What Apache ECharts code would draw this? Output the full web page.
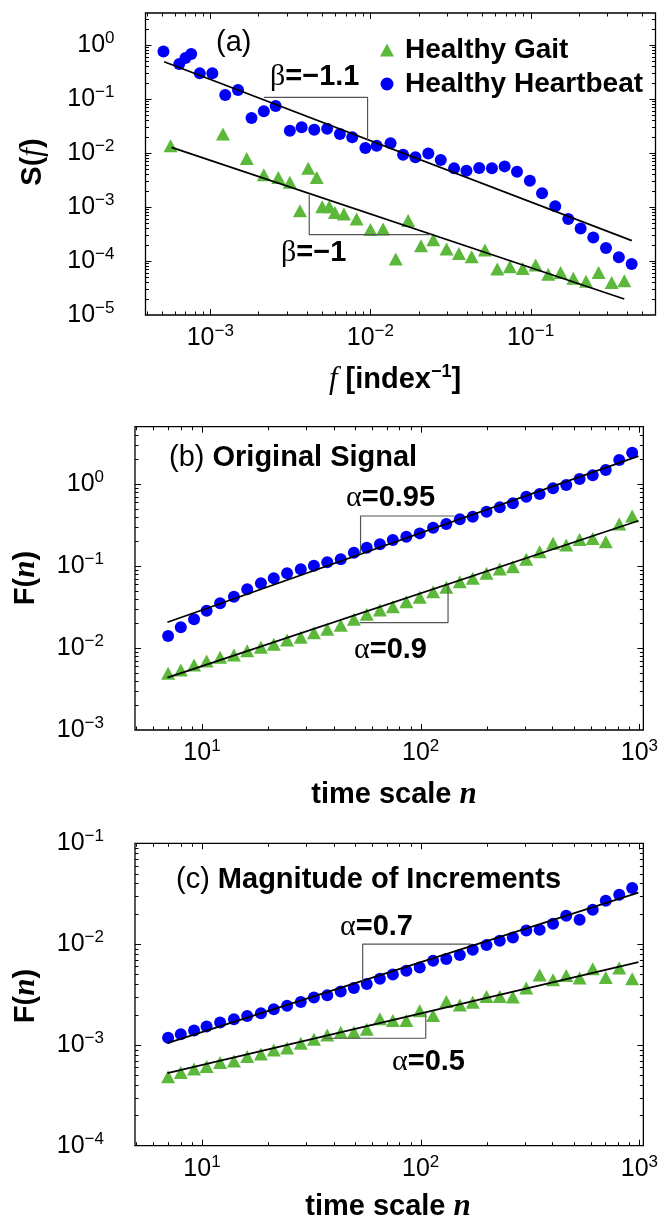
<!DOCTYPE html>
<html>
<head>
<meta charset="utf-8">
<script src="https://cdn.jsdelivr.net/npm/echarts@6/dist/echarts.min.js"></script>
<style>html,body{margin:0;padding:0;background:#fff}#c{width:661px;height:1220px}</style>
</head>
<body>
<div id="c"></div>
<script>
// ---------- DATA ----------
// Panel (a): power spectra
const aHeartF = [5.1e-4, 6.4e-4, 7.0e-4, 7.6e-4, 8.6e-4, 1.03e-3, 1.24e-3, 1.49e-3, 1.81e-3, 2.16e-3, 2.56e-3, 3.14e-3, 3.72e-3, 4.46e-3, 5.37e-3, 6.45e-3, 7.7e-3, 9.3e-3, 0.01094, 0.01336, 0.016, 0.0191, 0.023, 0.0275, 0.0333, 0.0398, 0.0478, 0.0574, 0.0689, 0.0823, 0.099, 0.118, 0.1426, 0.172, 0.2055, 0.2465, 0.296, 0.356, 0.428];
const aHeartS = [0.76, 0.445, 0.574, 0.68, 0.298, 0.30, 0.119, 0.147, 0.0445, 0.059, 0.074, 0.0259, 0.030, 0.027, 0.028, 0.0225, 0.0195, 0.0124, 0.01365, 0.0151, 0.0093, 0.0083, 0.0098, 0.0074, 0.00519, 0.0047, 0.00527, 0.0052, 0.00565, 0.0045, 0.00307, 0.00179, 0.00103, 6.0e-4, 4.0e-4, 2.73e-4, 1.74e-4, 1.17e-4, 8.8e-5];
const aGaitF = [5.65e-4, 1.2e-3, 1.69e-3, 2.16e-3, 2.66e-3, 3.14e-3, 3.63e-3, 4.09e-3, 4.62e-3, 5.0e-3, 5.53e-3, 6.0e-3, 6.83e-3, 8.2e-3, 0.0100, 0.0120, 0.0144, 0.0172, 0.0207, 0.0247, 0.0299, 0.0357, 0.0429, 0.0519, 0.062, 0.0743, 0.0893, 0.1076, 0.129, 0.154, 0.185, 0.222, 0.266, 0.321, 0.385];
const aGaitS = [0.01365, 0.0225, 0.0079, 3.96e-3, 3.53e-3, 2.86e-3, 8.5e-4, 5.19e-3, 3.53e-3, 1.01e-3, 1.01e-3, 7.9e-4, 7.4e-4, 6.0e-4, 3.85e-4, 3.9e-4, 1.09e-4, 5.6e-4, 1.92e-4, 2.48e-4, 1.67e-4, 1.38e-4, 1.2e-4, 1.6e-4, 7.1e-5, 7.8e-5, 7.3e-5, 8.4e-5, 5.7e-5, 6.1e-5, 4.8e-5, 4.2e-5, 6.1e-5, 4.0e-5, 4.3e-5];
const aHeartFitF = [5.15e-4, 0.429], aHeartFitS = [0.49, 2.38e-4];
const aGaitFitF = [5.73e-4, 0.385], aGaitFitS = [0.0127, 1.98e-5];
const aHeartGuide = [[2.16e-3, 0.107], [9.6e-3, 0.107], [9.6e-3, 0.0169]];
const aGaitGuide = [[4.15e-3, 1.69e-3], [4.15e-3, 3.07e-4], [0.0239, 3.07e-4]];

// Panels (b) and (c): DFA fluctuation functions
const nScale = [7.0, 8.0, 9.2, 10.5, 12.1, 14.0, 16.1, 18.6, 21.3, 24.5, 28.3, 32.5, 37.4, 43.1, 49.5, 56.7, 65.1, 74.6, 86.0, 99, 114, 131, 151, 173, 200, 230, 264, 304, 350, 403, 463, 533, 612, 702, 809, 927];
const bHeart = [0.0140, 0.0179, 0.0224, 0.0285, 0.0351, 0.0423, 0.0519, 0.0615, 0.0708, 0.0814, 0.0911, 0.101, 0.111, 0.1206, 0.1455, 0.1675, 0.1838, 0.2076, 0.228, 0.250, 0.293, 0.325, 0.371, 0.400, 0.460, 0.519, 0.581, 0.701, 0.755, 0.885, 0.972, 1.15, 1.276, 1.48, 1.96, 2.41];
const bGait = [0.00491, 0.00540, 0.00621, 0.00694, 0.00769, 0.00822, 0.00927, 0.0102, 0.0111, 0.01253, 0.0135, 0.0154, 0.0169, 0.0189, 0.0224, 0.0258, 0.0291, 0.0319, 0.0367, 0.0415, 0.0487, 0.0550, 0.0644, 0.0707, 0.0814, 0.0919, 0.0982, 0.1205, 0.1495, 0.189, 0.180, 0.211, 0.217, 0.198, 0.325, 0.407];
const cHeart = [1.18e-3, 1.276e-3, 1.387e-3, 1.52e-3, 1.667e-3, 1.8e-3, 1.94e-3, 2.06e-3, 2.26e-3, 2.44e-3, 2.67e-3, 2.95e-3, 3.11e-3, 3.39e-3, 3.66e-3, 4.01e-3, 4.53e-3, 5.0e-3, 5.43e-3, 5.86e-3, 6.83e-3, 7.1e-3, 7.78e-3, 8.79e-3, 9.77e-3, 0.0108, 0.01164, 0.01367, 0.01387, 0.0159, 0.0191, 0.01745, 0.0219, 0.0269, 0.0309, 0.036];
const cGait = [4.84e-4, 5.31e-4, 5.78e-4, 6.09e-4, 6.68e-4, 6.94e-4, 7.66e-4, 8.14e-4, 8.92e-4, 9.34e-4, 1.039e-3, 1.138e-3, 1.257e-3, 1.336e-3, 1.336e-3, 1.432e-3, 1.813e-3, 1.745e-3, 1.745e-3, 2.18e-3, 1.955e-3, 2.69e-3, 2.49e-3, 2.65e-3, 3.02e-3, 3.02e-3, 2.98e-3, 3.66e-3, 4.95e-3, 4.42e-3, 4.89e-3, 4.6e-3, 5.69e-3, 4.67e-3, 5.78e-3, 4.53e-3];
const fitN = [6.95, 990];
const bHeartFit = [0.0206, 2.19], bGaitFit = [0.00435, 0.357];
const cHeartFit = [1.04e-3, 0.0324], cGaitFit = [5.24e-4, 6.62e-3];
const bHeartGuide = [[53.1, 0.139], [53.1, 0.407], [142.6, 0.407]];
const bGaitGuide = [[52.6, 0.0204], [133.4, 0.0204], [133.4, 0.0586]];
const cHeartGuide = [[54.3, 4.25e-3], [54.3, 0.01], [170, 0.01]];
const cGaitGuide = [[36.1, 1.164e-3], [105.5, 1.164e-3], [105.5, 2.07e-3]];

// axis ranges
const aX = [3.94e-4, 0.603], aY = [1e-5, 3.91];
const bX = [4.94, 1043], bY = [1e-3, 5];
const cX = [4.94, 1043], cY = [1e-4, 0.1];

// ---------- STYLE ----------
const FONT = 'Liberation Sans', SERIF = 'Liberation Serif';
const BLUE = '#0000f8', GREEN = '#5bb83a';

function zip(xs, ys) { return xs.map((x, i) => [x, ys[i]]); }
function supFmt(v) {
  const l = Math.log10(v), e = Math.round(l);
  if (Math.abs(l - e) > 1e-6) return '';
  return '{b|10}{s|' + (e < 0 ? '\u2212' + (-e) : String(e)) + '}';
}
const tickRich = {
  b: { fontFamily: FONT, fontSize: 25, lineHeight: 30, color: '#000' },
  s: { fontFamily: FONT, fontSize: 17, lineHeight: 10, verticalAlign: 'top', color: '#000' }
};
function logAxis(gi, ext, margin) {
  return { type: 'log', logBase: 10, gridIndex: gi, min: ext[0], max: ext[1],
    axisLine: { show: false }, axisTick: { show: false }, splitLine: { show: false },
    axisLabel: { formatter: supFmt, rich: tickRich, margin: margin, color: '#000' } };
}
// tick values (major decades + minor 2..9)
function tickVals(ext) {
  const out = [];
  for (let d = Math.floor(Math.log10(ext[0])) - 1; d <= Math.ceil(Math.log10(ext[1])); d++) {
    for (let k = 1; k <= 9; k++) {
      const v = k * Math.pow(10, d);
      if (v > ext[0] * 1.0001 && v < ext[1] * 0.9999) out.push([v, k === 1 ? 1 : 0]);
    }
  }
  return out;
}
function xTickItem(params, api) {
  const cs = params.coordSys;
  const px = Math.round(api.coord([api.value(0), api.value(1)])[0]) + 0.5;
  const len = api.value(2) ? 6 : 3.5;
  const b = cs.y + cs.height, t = cs.y;
  return { type: 'group', children: [
    { type: 'line', shape: { x1: px, y1: b, x2: px, y2: b - len }, style: { stroke: '#000', lineWidth: 1 } },
    { type: 'line', shape: { x1: px, y1: t, x2: px, y2: t + len }, style: { stroke: '#000', lineWidth: 1 } } ] };
}
function yTickItem(params, api) {
  const cs = params.coordSys;
  const py = Math.round(api.coord([api.value(0), api.value(1)])[1]) + 0.5;
  const len = api.value(2) ? 6 : 3.5;
  const l = cs.x, r = cs.x + cs.width;
  return { type: 'group', children: [
    { type: 'line', shape: { x1: l, y1: py, x2: l + len, y2: py }, style: { stroke: '#000', lineWidth: 1 } },
    { type: 'line', shape: { x1: r, y1: py, x2: r - len, y2: py }, style: { stroke: '#000', lineWidth: 1 } } ] };
}
function tickSeries(gi, xe, ye) {
  return [
    { type: 'custom', xAxisIndex: gi, yAxisIndex: gi, silent: true, z: 5, renderItem: xTickItem,
      data: tickVals(xe).map(t => [t[0], ye[0], t[1]]) },
    { type: 'custom', xAxisIndex: gi, yAxisIndex: gi, silent: true, z: 5, renderItem: yTickItem,
      data: tickVals(ye).map(t => [xe[0], t[0], t[1]]) } ];
}
function scat(gi, name, data, isGait) {
  return { type: 'scatter', name: name, xAxisIndex: gi, yAxisIndex: gi, data: data, z: 2,
    symbol: isGait ? 'triangle' : 'circle', symbolSize: isGait ? [14, 13] : 12,
    itemStyle: { color: isGait ? GREEN : BLUE, opacity: 1 } };
}
function line(gi, data, color, w) {
  return { type: 'line', xAxisIndex: gi, yAxisIndex: gi, data: data, symbol: 'none', silent: true, z: 3,
    lineStyle: { color: color, width: w }, animation: false };
}

const annRich = {
  g: { fontFamily: SERIF, fontSize: 30, color: '#000' },
  b: { fontFamily: FONT, fontSize: 29, fontWeight: 'bold', color: '#000' },
  r: { fontFamily: FONT, fontSize: 29, color: '#000' },
  i: { fontFamily: SERIF, fontSize: 31, fontStyle: 'italic', color: '#000' },
  ib: { fontFamily: SERIF, fontSize: 31, fontStyle: 'italic', fontWeight: 'bold', color: '#000' },
  tb: { fontFamily: FONT, fontSize: 29, fontWeight: 'bold', color: '#000', lineHeight: 34 },
  sp: { fontFamily: FONT, fontSize: 18, fontWeight: 'bold', color: '#000', lineHeight: 12, verticalAlign: 'top' }
};
function txt(x, y, text, align, rot) {
  const o = { type: 'text', x: x, y: y, silent: true, z: 20,
    style: { text: text, rich: annRich, align: align || 'left', verticalAlign: 'middle', fill: '#000' } };
  if (rot) o.rotation = rot;
  return o;
}

const option = {
  animation: false,
  backgroundColor: '#fff',
  textStyle: { fontFamily: FONT },
  grid: [
    { left: 145.5, top: 13, width: 510, height: 302, show: true, borderColor: '#000', borderWidth: 1.3 },
    { left: 135, top: 426.7, width: 510, height: 303.3, show: true, borderColor: '#000', borderWidth: 1.3 },
    { left: 135, top: 843.3, width: 509.5, height: 302.4, show: true, borderColor: '#000', borderWidth: 1.3 }
  ],
  xAxis: [ logAxis(0, aX, 8), logAxis(1, bX, 8), logAxis(2, cX, 8) ],
  yAxis: [ logAxis(0, aY, 31), logAxis(1, bY, 31), logAxis(2, cY, 31) ],
  legend: {
    data: [{ name: 'Healthy Gait', icon: 'triangle' }, { name: 'Healthy Heartbeat', icon: 'circle' }],
    orient: 'vertical', left: 375, top: 30, padding: 5, itemWidth: 14, itemHeight: 13, itemGap: 4,
    selectedMode: false,
    textStyle: { fontFamily: FONT, fontSize: 28, fontWeight: 'bold', color: '#000', lineHeight: 30, padding: [0, 0, 0, 6] }
  },
  graphic: [
    txt(233.7, 43, '{r|(a)}', 'center'),
    txt(270, 77, '{g|\u03b2}{b|=\u22121.1}'),
    txt(281, 253, '{g|\u03b2}{b|=\u22121}'),
    txt(169, 458, '{r|(b) }{b|Original Signal}'),
    txt(346, 498, '{g|\u03b1}{b|=0.95}'),
    txt(354, 650, '{g|\u03b1}{b|=0.9}'),
    txt(176, 880, '{r|(c) }{b|Magnitude of Increments}'),
    txt(340, 927, '{g|\u03b1}{b|=0.7}'),
    txt(392, 1062, '{g|\u03b1}{b|=0.5}'),
    txt(33, 162, '{tb|S(}{i|f}{tb|)}', 'center', Math.PI / 2),
    txt(26, 578, '{tb|F(}{ib|n}{tb|)}', 'center', Math.PI / 2),
    txt(26, 996, '{tb|F(}{ib|n}{tb|)}', 'center', Math.PI / 2),
    txt(395, 380, '{i|f}{tb| [index}{sp|\u22121}{tb|]}', 'center'),
    txt(394, 795, '{tb|time scale }{ib|n}', 'center'),
    txt(388, 1207, '{tb|time scale }{ib|n}', 'center')
  ],
  series: [
    scat(0, 'Healthy Gait', zip(aGaitF, aGaitS), true),
    scat(0, 'Healthy Heartbeat', zip(aHeartF, aHeartS), false),
    line(0, zip(aHeartFitF, aHeartFitS), '#000', 1.7),
    line(0, zip(aGaitFitF, aGaitFitS), '#000', 1.7),
    line(0, aHeartGuide, '#555', 1.2),
    line(0, aGaitGuide, '#555', 1.2),
    ...tickSeries(0, aX, aY),

    scat(1, 'Healthy Gait', zip(nScale, bGait), true),
    scat(1, 'Healthy Heartbeat', zip(nScale, bHeart), false),
    line(1, zip(fitN, bHeartFit), '#000', 1.7),
    line(1, zip(fitN, bGaitFit), '#000', 1.7),
    line(1, bHeartGuide, '#555', 1.2),
    line(1, bGaitGuide, '#555', 1.2),
    ...tickSeries(1, bX, bY),

    scat(2, 'Healthy Gait', zip(nScale, cGait), true),
    scat(2, 'Healthy Heartbeat', zip(nScale, cHeart), false),
    line(2, zip(fitN, cHeartFit), '#000', 1.7),
    line(2, zip(fitN, cGaitFit), '#000', 1.7),
    line(2, cHeartGuide, '#555', 1.2),
    line(2, cGaitGuide, '#555', 1.2),
    ...tickSeries(2, cX, cY)
  ]
};
const chart = echarts.init(document.getElementById('c'), null, { renderer: 'canvas' });
chart.setOption(option);
</script>
</body>
</html>
